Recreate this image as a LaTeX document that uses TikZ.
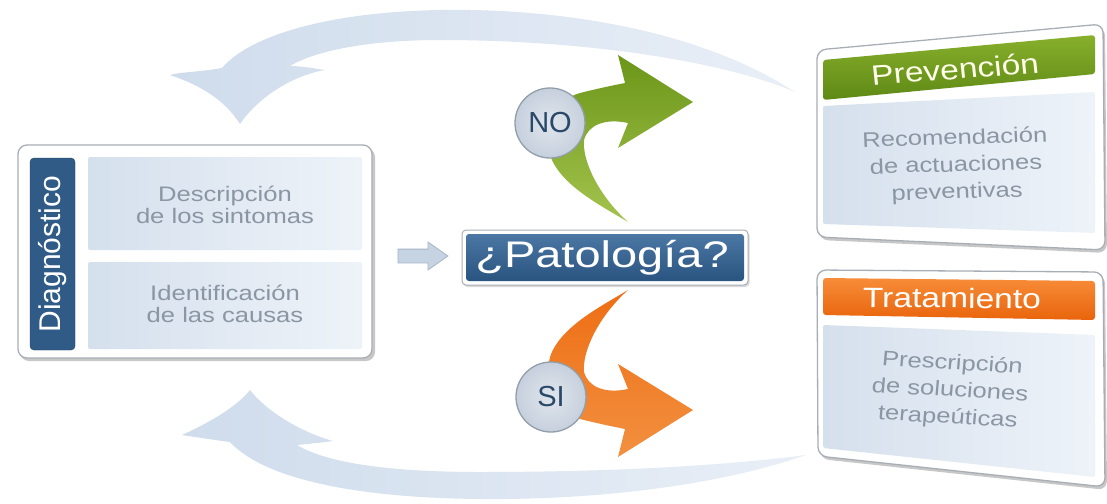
\documentclass[tikz,border=0pt]{standalone}
\usepackage{fontspec}
\setmainfont{Liberation Sans}
\usetikzlibrary{shapes.arrows,shapes.geometric,shadows}
\definecolor{dblue}{HTML}{2F5B86}
\definecolor{dblueT}{HTML}{4B77A4}
\definecolor{dblueB}{HTML}{2A5480}
\definecolor{panelL}{HTML}{D5E0ED}
\definecolor{panelR}{HTML}{EEF3F9}
\definecolor{txtgray}{HTML}{8A96A3}
\definecolor{bigL}{HTML}{CFDCEC}
\definecolor{bigR}{HTML}{E9EFF7}
\definecolor{greenT}{HTML}{6B9618}
\definecolor{greenB}{HTML}{A4C34E}
\definecolor{orangeT}{HTML}{F29040}
\definecolor{orangeB}{HTML}{EE6E14}
\definecolor{hgreenT}{HTML}{88B02C}
\definecolor{hgreenB}{HTML}{5E8915}
\definecolor{horangeT}{HTML}{F78C38}
\definecolor{horangeB}{HTML}{E9640C}
\definecolor{circF}{HTML}{C6D0DD}
\definecolor{circD}{HTML}{939EAB}
\definecolor{circT}{HTML}{2A4868}
\definecolor{boxD}{HTML}{A8AEB6}
\definecolor{sarrF}{HTML}{C6D3E2}
\definecolor{sarrD}{HTML}{A7B5C5}
\tikzset{
  bigarrow/.style={left color=bigL, right color=bigR, draw=none},
  outerbox/.style={fill=white, draw=boxD, line width=1.3pt, rounded corners=9pt},
  shadowbox/.style={fill=black, opacity=0.22, rounded corners=9pt},
  panel/.style={left color=panelL, right color=panelR, draw=none, rounded corners=2pt},
  paneltext/.style={text=txtgray, align=center, font=\fontsize{21}{22}\selectfont, xscale=1.22, inner sep=0pt},
  boxtext/.style={text=txtgray, align=center, font=\fontsize{21}{27}\selectfont, xscale=1.22, inner sep=0pt},
  headtext/.style={text=white, font=\fontsize{28}{28}\selectfont, xscale=1.2, inner sep=0pt},
  decision/.style={circle, minimum size=70pt, inner sep=0pt,
     inner color=circF!55!white, outer color=circF, draw=circD, line width=1.3pt,
     text=circT, font=\fontsize{29}{29}\selectfont},
}
\begin{document}
\begin{tikzpicture}[x=1pt,y=-1pt]
\useasboundingbox (0,0) rectangle (1107,503);
\fill[white] (0,0) rectangle (1107,503);

% big return arrows
\path[bigarrow] (795,92) .. controls (700,30) and (560,8) .. (440,10)
  .. controls (330,12) and (250,35) .. (222,68)
  .. controls (200,72) and (180,72) .. (170,75)
  .. controls (200,85) and (225,100) .. (240,124)
  .. controls (260,95) and (295,75) .. (325,70)
  .. controls (312,68) and (300,66) .. (290,66)
  .. controls (320,48) and (380,40) .. (440,40)
  .. controls (580,40) and (720,60) .. (795,92) -- cycle;
\path[bigarrow] (806,455) .. controls (720,485) and (600,500) .. (480,499)
  .. controls (360,498) and (265,480) .. (230,442)
  .. controls (215,440) and (195,437) .. (182,435)
  .. controls (215,420) and (238,405) .. (250,390)
  .. controls (265,410) and (300,432) .. (333,441)
  .. controls (320,443) and (305,444) .. (297,445)
  .. controls (330,465) and (400,472) .. (480,472)
  .. controls (620,472) and (730,465) .. (806,455) -- cycle;

% Diagnostico box
\fill[shadowbox] (20,148) rectangle (375,361);
\node[outerbox, minimum width=354pt, minimum height=213pt, inner sep=0pt] (diag) at (195,251.5) {};
\node[fill=dblue, draw=dblue!70!black, rounded corners=4pt, minimum width=45pt, minimum height=192pt, inner sep=0pt] (bar) at (52.5,254) {};
\node[rotate=90, text=white, font=\fontsize{30}{30}\selectfont, inner sep=0pt] (diagt) at (bar.center) {Diagnóstico};
\node[panel, minimum width=274pt, minimum height=93pt] (p1) at (225,203.5) {};
\node[panel, minimum width=274pt, minimum height=87pt] (p2) at (225,305.5) {};
\node[paneltext] (t1) at (225,205) {Descripción\\de los sintomas};
\node[paneltext] (t2) at (225,304) {Identificación\\de las causas};

% small arrow
\node[single arrow, fill=sarrF, draw=sarrD, line width=0.8pt, inner xsep=0pt, inner ysep=6.5pt,
  text height=0pt, text depth=0pt, single arrow head extend=7pt, single arrow tip angle=70,
  minimum height=50pt] (sarr) at (418,256) {};

% Patologia
\node[fill=white, draw=boxD, line width=1pt, rounded corners=4pt, minimum width=286pt, minimum height=55pt, inner sep=0pt,
  drop shadow={shadow xshift=1.5pt, shadow yshift=-2pt, opacity=0.3}] (pat) at (605,257.5) {};
\node[top color=dblueT, bottom color=dblueB, rounded corners=3pt, minimum width=278pt, minimum height=47pt, inner sep=0pt] (patin) at (pat.center) {};
\node[text=white, font=\fontsize{37}{37}\selectfont, xscale=1.27, inner sep=0pt] (patt) at (602,258) {¿Patología?};

% green arrow (NO)
\path[top color=greenT, bottom color=greenB] (628,222)
  .. controls (600,205) and (560,185) .. (550,155)
  .. controls (543,125) and (555,100) .. (580,93)
  .. controls (600,88) and (615,85) .. (625,83)
  -- (618,55) -- (693,102) -- (618,148) -- (628,123)
  .. controls (605,118) and (588,125) .. (584,140)
  .. controls (582,160) and (598,195) .. (628,222) -- cycle;
% orange arrow (SI), mirror image
\begin{scope}[shift={(0,512)}, yscale=-1]
\path[top color=orangeB, bottom color=orangeT] (628,222)
  .. controls (600,205) and (560,185) .. (550,155)
  .. controls (543,125) and (555,100) .. (580,93)
  .. controls (600,88) and (615,85) .. (625,83)
  -- (618,55) -- (693,102) -- (618,148) -- (628,123)
  .. controls (605,118) and (588,125) .. (584,140)
  .. controls (582,160) and (598,195) .. (628,222) -- cycle;
\end{scope}
\node[decision] (no) at (550,123) {NO};
\node[decision] (si) at (551,397) {SI};

% Prevencion box
\fill[shadowbox] (819,53) -- (1105,27) -- (1107,253) -- (819,240) -- cycle;
\draw[outerbox] (817,50) -- (1103,24) -- (1105,250) -- (817,237) -- cycle;
\path[top color=hgreenT, bottom color=hgreenB, rounded corners=3pt] (823,60) -- (1095,35) -- (1095,74) -- (823,100) -- cycle;
\path[panel] (823,106) -- (1095,92) -- (1095,233) -- (823,224) -- cycle;
\node[headtext, text=white!92!yellow, rotate=5] (prevh) at (955,69) {Prevención};
\node[boxtext, rotate=2] (prevt) at (956,166) {Recomendación\\de actuaciones\\preventivas};

% Tratamiento box
\fill[shadowbox] (819,273) -- (1105,275) -- (1107,490) -- (820,459) -- cycle;
\draw[outerbox] (817,270) -- (1103,272) -- (1105,487) -- (818,456) -- cycle;
\path[top color=horangeT, bottom color=horangeB, rounded corners=3pt] (823,278) -- (1095,281) -- (1095,320) -- (823,315) -- cycle;
\path[panel] (823,325) -- (1095,335) -- (1095,477) -- (823,448) -- cycle;
\node[headtext, rotate=-0.5] (trath) at (952,298) {Tratamiento};
\node[boxtext, rotate=-4] (tratt) at (950,391) {Prescripción\\de soluciones\\terapeúticas};
\end{tikzpicture}
\end{document}
